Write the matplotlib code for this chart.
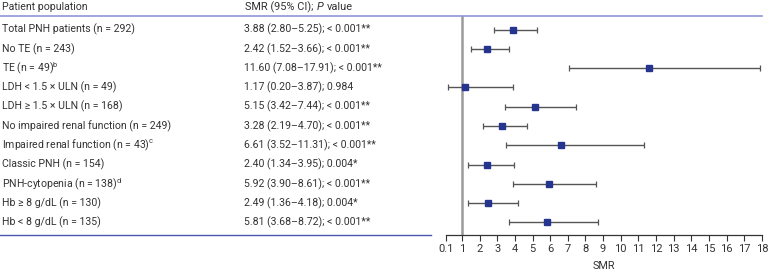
import matplotlib.pyplot as plt
import matplotlib.transforms as mtrans
from matplotlib.lines import Line2D

plt.rcParams['font.family'] = ['Roboto', 'DejaVu Sans']
plt.rcParams['mathtext.fontset'] = 'custom'
plt.rcParams['mathtext.rm'] = 'Roboto'
plt.rcParams['mathtext.it'] = 'Roboto:italic'

# rows of the forest plot
labels = ['Total PNH patients (n = 292)', 'No TE (n = 243)', 'TE (n = 49)$^{\\mathrm{b}}$',
          'LDH < 1.5 × ULN (n = 49)', 'LDH ≥ 1.5 × ULN (n = 168)',
          'No impaired renal function (n = 249)', 'Impaired renal function (n = 43)$^{\\mathrm{c}}$',
          'Classic PNH (n = 154)', 'PNH-cytopenia (n = 138)$^{\\mathrm{d}}$',
          'Hb ≥ 8 g/dL (n = 130)', 'Hb < 8 g/dL (n = 135)']
smr = [3.88, 2.42, 11.60, 1.17, 5.15, 3.28, 6.61, 2.40, 5.92, 2.49, 5.81]
ci_lo = [2.80, 1.52, 7.08, 0.20, 3.42, 2.19, 3.52, 1.34, 3.90, 1.36, 3.68]
ci_hi = [5.25, 3.66, 17.91, 3.87, 7.44, 4.70, 11.31, 3.95, 8.61, 4.18, 8.72]
p_text = ['< 0.001**', '< 0.001**', '< 0.001**', '0.984', '< 0.001**', '< 0.001**',
          '< 0.001**', '0.004*', '< 0.001**', '0.004*', '< 0.001**']
xticks = [0.1] + list(range(1, 19))

W, H = 768, 272
fig = plt.figure(figsize=(W / 100, H / 100), dpi=100)

# forest plot axes: x from 446 to 762 px, y from 16 to 235 px
ax = fig.add_axes([446 / W, 1 - 235 / H, (762 - 446) / W, (235 - 16) / H])
n = len(labels)
rows = list(range(n))
ax.set_xlim(0.1, 18)
ax.set_ylim(10.66, -0.71)

ax.axvline(1, color='#9a9a9a', lw=1.8, zorder=1)
err = [[s - l for s, l in zip(smr, ci_lo)], [h - s for s, h in zip(smr, ci_hi)]]
ax.errorbar(smr, rows, xerr=err, fmt='none', ecolor='#555555', elinewidth=1.0,
            capsize=2.5, capthick=0.9, zorder=2)
ax.plot(smr, rows, 's', color='#25358f', markersize=5, zorder=3)

for s in ['top', 'right', 'left']:
    ax.spines[s].set_visible(False)
ax.spines['bottom'].set_color('#333333')
ax.spines['bottom'].set_linewidth(0.9)
ax.set_yticks([])
ax.set_xticks(xticks)
ax.set_xticklabels(['0.1'] + [str(t) for t in range(1, 19)], fontsize=8, color='#333333')
ax.tick_params(axis='x', length=4, width=0.8, color='#333333', pad=2.5)
ax.set_xlabel('SMR', fontsize=7.8, color='#333333', labelpad=5)

# table text
tr_fig = mtrans.blended_transform_factory(fig.transFigure, ax.transData)
for i in rows:
    ax.text(2 / W, i, labels[i], transform=tr_fig, fontsize=7.6, color='#333333',
            va='center', ha='left')
    txt = f'{smr[i]:.2f} ({ci_lo[i]:.2f}–{ci_hi[i]:.2f}); {p_text[i]}'
    ax.text(244 / W, i, txt, transform=tr_fig, fontsize=7.6, color='#333333',
            va='center', ha='left')

# header row
fig.text(2 / W, 1 - 7 / H, 'Patient population', fontsize=7.6, color='#333333', va='center')
fig.text(245 / W, 1 - 7 / H, 'SMR (95% CI); ', fontsize=7.9, color='#333333', va='center')
fig.text(317 / W, 1 - 7 / H, 'P', fontsize=7.9, color='#333333', va='center', style='italic')
fig.text(327 / W, 1 - 7 / H, 'value', fontsize=7.9, color='#333333', va='center')

fig.add_artist(Line2D([0, 762 / W], [1 - 16 / H, 1 - 16 / H], color='#8f97d8', lw=1.2))
fig.add_artist(Line2D([0, 431 / W], [1 - 235 / H, 1 - 235 / H], color='#4a56b0', lw=1.0))

fig.savefig('out.png', dpi=100)
